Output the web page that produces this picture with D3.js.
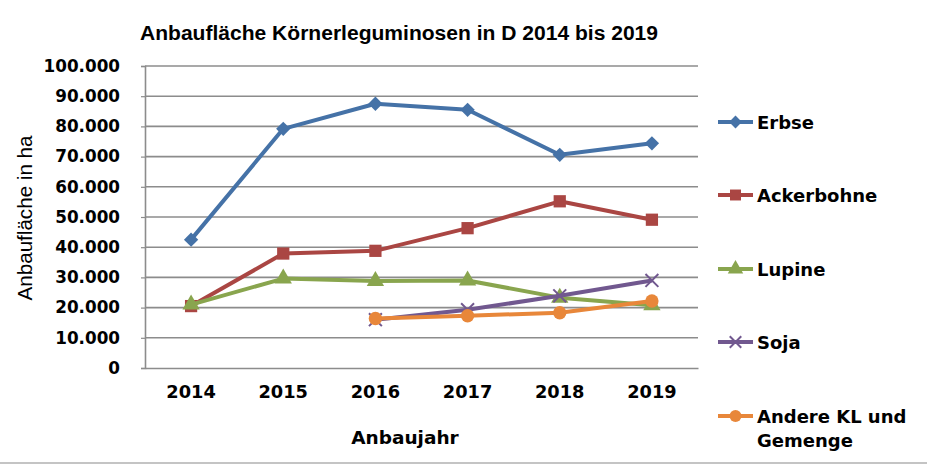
<!DOCTYPE html>
<html lang="de">
<head>
  <meta charset="UTF-8">
  <title>Anbaufläche Körnerleguminosen in D 2014 bis 2019</title>
  <style>
    body { margin: 0; background: #fff; }
    svg { display: block; }
    text { fill: #000; }
  </style>
</head>
<body>
  <script src="https://d3js.org/d3.v7.min.js"></script>
  <script>
    // Daten
    const years = ["2014", "2015", "2016", "2017", "2018", "2019"];
    const erbse      = [42500, 79200, 87500, 85500, 70600, 74400];
    const ackerbohne = [20500, 37900, 38800, 46300, 55200, 49100];
    const lupine     = [21000, 29600, 28800, 29000, 23300, 20800];
    const soja       = [null, null, 16000, 19300, 23900, 29000];
    const andere     = [null, null, 16400, 17300, 18300, 22200];
    const yTicks = [0, 10000, 20000, 30000, 40000, 50000, 60000, 70000, 80000, 90000, 100000];

    const series = [
      { name: "Erbse", values: erbse, color: "#4572A7", symbol: "diamond" },
      { name: "Ackerbohne", values: ackerbohne, color: "#AA4643", symbol: "square" },
      { name: "Lupine", values: lupine, color: "#89A54E", symbol: "triangle" },
      { name: "Soja", values: soja, color: "#71588F", symbol: "cross" },
      { name: "Andere KL und Gemenge", values: andere, color: "#E8873A", symbol: "circle" }
    ];

    const svgWidth = 927, svgHeight = 466;
    const margin = { top: 66, left: 145, right: 229, bottom: 98 };
    const width = svgWidth - margin.left - margin.right,
          height = svgHeight - margin.top - margin.bottom;

    const svg = d3.select("body").append("svg")
      .attr("width", svgWidth)
      .attr("height", svgHeight);

    const xScale = d3.scaleBand().domain(years).range([0, width]);
    const yScale = d3.scaleLinear().domain([0, 100000]).range([height, 0]);

    const fmt = v => v === 0 ? "0" : d3.format(",")(v).replace(/,/g, ".");

    const g = svg.append("g").attr("transform", `translate(${margin.left},${margin.top})`);

    // Gitternetz
    g.append("g").selectAll("line").data(yTicks.slice(1)).join("line")
      .attr("x1", 0).attr("x2", width)
      .attr("y1", d => yScale(d)).attr("y2", d => yScale(d))
      .attr("stroke", "#8c8c8c").attr("stroke-width", 1.6);

    // y-Achse
    const yAxis = g.append("g")
      .call(d3.axisLeft(yScale).tickValues(yTicks).tickSize(4).tickPadding(21).tickFormat(fmt));
    yAxis.select(".domain").attr("stroke", "#8c8c8c").attr("stroke-width", 1.6);
    yAxis.selectAll(".tick line").attr("stroke", "#8c8c8c").attr("stroke-width", 1.2);
    yAxis.selectAll("text")
      .attr("font-family", "DejaVu Sans").attr("font-weight", "bold")
      .attr("font-size", 16.8).attr("fill", "#000");

    // x-Achse
    const xAxis = g.append("g").attr("transform", `translate(0,${height})`)
      .call(d3.axisBottom(xScale).tickSize(0).tickPadding(17));
    xAxis.select(".domain").attr("stroke", "#8c8c8c").attr("stroke-width", 1.6);
    xAxis.selectAll("text")
      .attr("font-family", "DejaVu Sans").attr("font-weight", "bold")
      .attr("font-size", 17.8).attr("fill", "#000");

    const symbolType = {
      diamond: d3.symbolDiamond2, square: d3.symbolSquare, triangle: d3.symbolTriangle,
      cross: d3.symbolX, circle: d3.symbolCircle
    };
    const symbolSize = { diamond: 130, square: 150, triangle: 130, cross: 110, circle: 140 };

    function drawMarker(sel, s, scale) {
      const k = scale || 1;
      const path = d3.symbol().type(symbolType[s.symbol]).size(symbolSize[s.symbol] * k)();
      if (s.symbol === "cross") {
        sel.append("path").attr("d", path).attr("fill", "none")
          .attr("stroke", s.color).attr("stroke-width", 2);
      } else {
        sel.append("path").attr("d", path).attr("fill", s.color);
      }
    }

    const cx = d => xScale(d.year) + xScale.bandwidth() / 2;

    const line = d3.line()
      .defined(d => d.value != null)
      .x(cx)
      .y(d => yScale(d.value));

    series.forEach(s => {
      const pts = years.map((y, i) => ({ year: y, value: s.values[i] }));
      const sg = g.append("g");
      sg.append("path").datum(pts)
        .attr("d", line)
        .attr("fill", "none")
        .attr("stroke", s.color)
        .attr("stroke-width", 4)
        .attr("stroke-linejoin", "round");
      pts.filter(d => d.value != null).forEach(d => {
        const m = sg.append("g").attr("transform", `translate(${cx(d)},${yScale(d.value)})`);
        drawMarker(m, s);
      });
    });

    // Titel
    svg.append("text")
      .attr("x", 399).attr("y", 40)
      .attr("text-anchor", "middle")
      .attr("font-family", "Liberation Sans").attr("font-weight", "bold")
      .attr("font-size", 19.5)
      .attr("textLength", 518).attr("lengthAdjust", "spacingAndGlyphs")
      .text("Anbaufläche Körnerleguminosen in D 2014 bis 2019");

    // Achsentitel
    svg.append("text")
      .attr("x", 405).attr("y", 444)
      .attr("text-anchor", "middle")
      .attr("font-family", "DejaVu Sans").attr("font-weight", "bold")
      .attr("font-size", 18.5)
      .text("Anbaujahr");

    svg.append("text")
      .attr("transform", "translate(32,218) rotate(-90)")
      .attr("text-anchor", "middle")
      .attr("font-family", "Liberation Sans")
      .attr("font-size", 20)
      .attr("textLength", 165).attr("lengthAdjust", "spacingAndGlyphs")
      .text("Anbaufläche in ha");

    // Legende
    const legendY = [122, 195, 269, 342, 416];
    const legend = svg.append("g");
    series.forEach((s, i) => {
      const lg = legend.append("g").attr("transform", `translate(718,${legendY[i]})`);
      lg.append("line").attr("x1", 0).attr("x2", 35).attr("y1", 0).attr("y2", 0)
        .attr("stroke", s.color).attr("stroke-width", 4);
      const m = lg.append("g").attr("transform", "translate(17.5,0)");
      drawMarker(m, s, 0.8);
      const words = s.name === "Andere KL und Gemenge" ? ["Andere KL und", "Gemenge"] : [s.name];
      const t = lg.append("text")
        .attr("x", 39).attr("y", 6.5)
        .attr("font-family", "DejaVu Sans").attr("font-weight", "bold")
        .attr("font-size", 18);
      words.forEach((w, j) => t.append("tspan").attr("x", 39).attr("dy", j === 0 ? 0 : 24).text(w));
    });

    // unterer Rand
    svg.append("line").attr("x1", 0).attr("x2", svgWidth).attr("y1", 463).attr("y2", 463)
      .attr("stroke", "#b0b0b0").attr("stroke-width", 1.5);
  </script>
</body>
</html>
